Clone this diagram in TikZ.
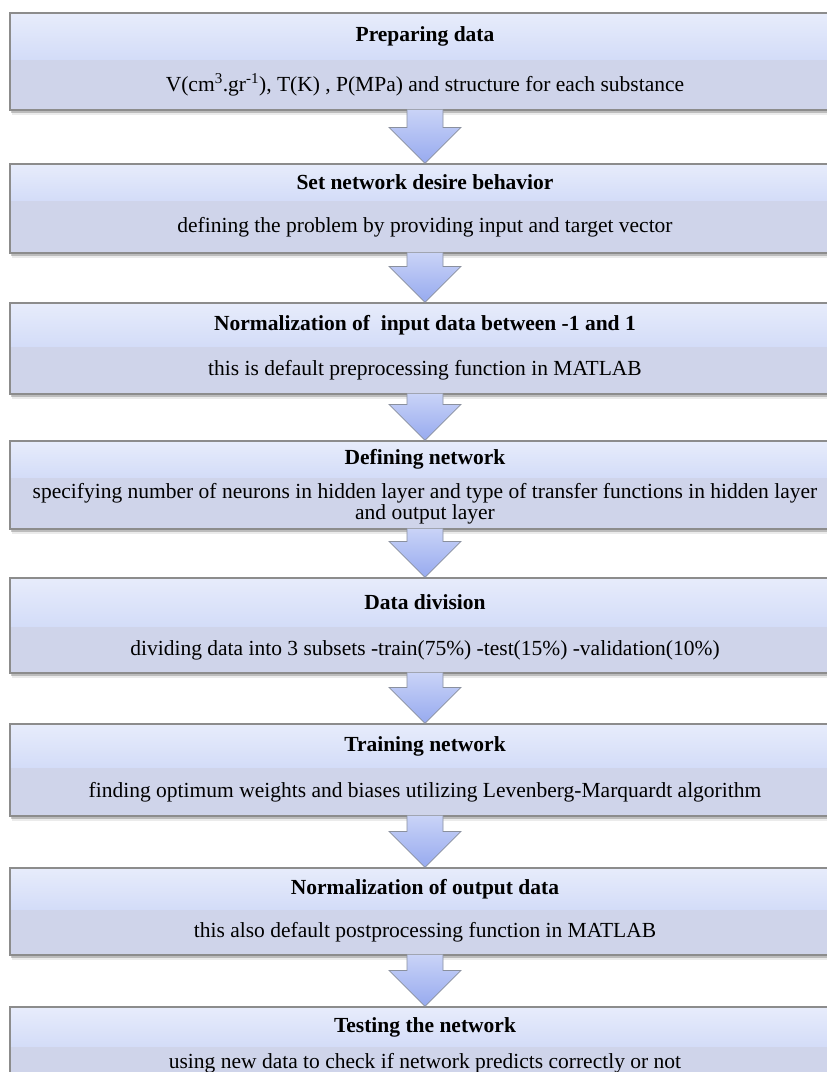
\documentclass[tikz,border=0pt]{standalone}
\usepackage{fontspec}
\setmainfont{Liberation Serif}
\usetikzlibrary{calc}
\definecolor{bandtop}{HTML}{E7ECFB}
\definecolor{bandmid}{HTML}{D3DCF8}
\definecolor{bandlow}{HTML}{CFD4EA}
\definecolor{edgegray}{HTML}{8C8C8C}
\definecolor{arrtop}{HTML}{C9D3F7}
\definecolor{arrbot}{HTML}{97AAEF}
\definecolor{arredge}{HTML}{8A909E}
\tikzset{
  boxframe/.style={draw=edgegray, line width=1.2pt, rectangle, minimum width=830pt, inner sep=0pt},
  titletext/.style={font=\fontsize{21.5}{21}\selectfont\bfseries, inner sep=0pt, align=center},
  bodytext/.style={font=\fontsize{21.5}{20.5}\selectfont, inner sep=0pt, align=center},
  flowarrow/.style={draw=arredge, line width=0.8pt, top color=arrtop, bottom color=arrbot},
  shadowA/.style={fill=black, opacity=0.20},
  shadowB/.style={fill=black, opacity=0.08},
}
\newcommand{\flowbox}[6]{%
  \fill[shadowB] (12,#4) rectangle (845,#4+5);
  \fill[shadowA] (11,#2+2) rectangle (843,#4+2.5);
  \shade[top color=bandtop, bottom color=bandmid] (10,#2) rectangle (840,#3);
  \fill[bandlow] (10,#3) rectangle (840,#4);
  \node[boxframe, minimum height={(#4-#2)*1pt}] (#1) at (425,{(#2+#4)/2}) {};
  \node[titletext] (#1t) at (425,{(#2+#3)/2}) {#5};
  \node[bodytext] (#1d) at (425,{(#3+#4)/2}) {#6};
}
\newcommand{\flowarrow}[2]{%
  \draw[flowarrow] ($(#1.south)+(-18,-1)$) -- ($(#2.north)+(-18,-36)$) -- ($(#2.north)+(-36,-36)$)
    -- (#2.north) -- ($(#2.north)+(36,-36)$) -- ($(#2.north)+(18,-36)$) -- ($(#1.south)+(18,-1)$);
}
\begin{document}
\begin{tikzpicture}[x=1pt,y=-1pt]
\useasboundingbox (0,0) rectangle (827,1072);
\clip (0,0) rectangle (827,1072);
\fill[white] (0,0) rectangle (827,1072);
\flowbox{b1}{13}{60}{110}{Preparing data}{V(cm\textsuperscript{3}.gr\textsuperscript{-1}), T(K) , P(MPa) and structure for each substance}
\flowbox{b2}{164}{201}{253}{Set network desire behavior}{defining the problem by providing input and target vector}
\flowbox{b3}{303}{347}{394}{Normalization of \ input data between -1 and 1}{this is default preprocessing function in MATLAB}
\flowbox{b4}{441}{478}{529}{Defining network}{specifying number of neurons in hidden layer and type of transfer functions in hidden layer\\ and output layer}
\flowbox{b5}{578}{627}{673}{Data division}{dividing data into 3 subsets -train(75\%) -test(15\%) -validation(10\%)}
\flowbox{b6}{724}{768}{816}{Training network}{finding optimum weights and biases utilizing Levenberg-Marquardt algorithm}
\flowbox{b7}{868}{910}{955}{Normalization of output data}{this also default postprocessing function in MATLAB}
\flowbox{b8}{1007}{1047}{1080}{Testing the network}{using new data to check if network predicts correctly or not}
\flowarrow{b1}{b2}
\flowarrow{b2}{b3}
\flowarrow{b3}{b4}
\flowarrow{b4}{b5}
\flowarrow{b5}{b6}
\flowarrow{b6}{b7}
\flowarrow{b7}{b8}
\end{tikzpicture}
\end{document}
